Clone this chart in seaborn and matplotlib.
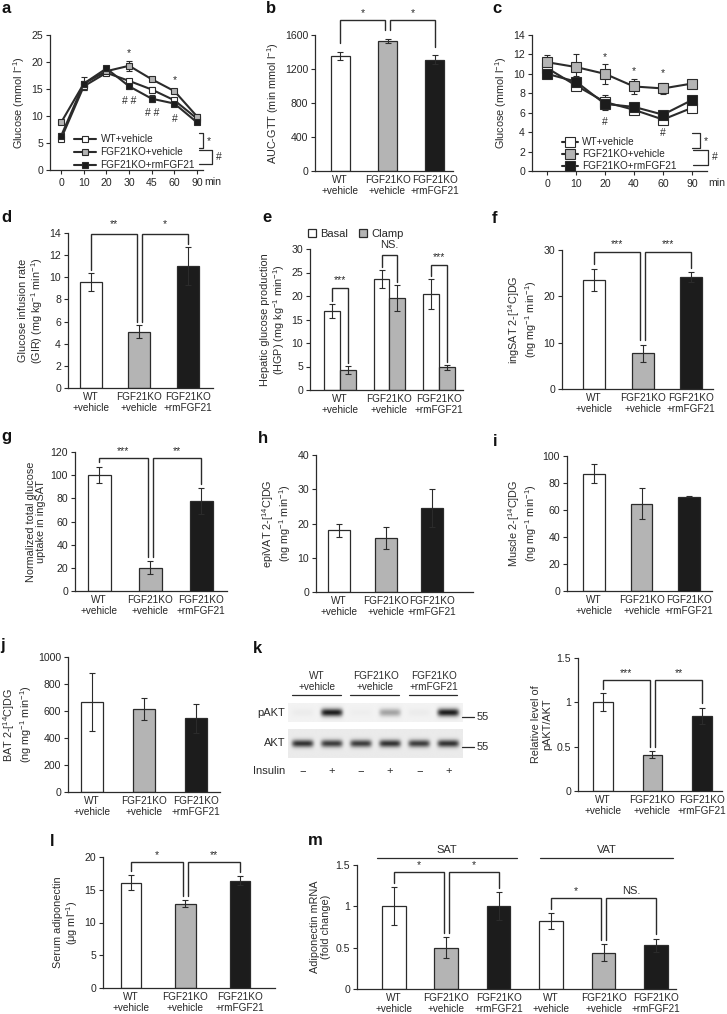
import numpy as np
import pandas as pd
import matplotlib
matplotlib.use('Agg')
import matplotlib.pyplot as plt
import seaborn as sns
from matplotlib.lines import Line2D
from matplotlib.ticker import FuncFormatter

sns.set_theme(style='ticks')
plt.rcParams['font.family'] = ['Liberation Sans', 'DejaVu Sans']
plt.rcParams['mathtext.fontset'] = 'custom'
plt.rcParams['mathtext.rm'] = 'Liberation Sans'
plt.rcParams['mathtext.default'] = 'regular'

W, H = 727, 1014
INK = '#2b2b2b'
WHITE, GREY, BLACK = '#ffffff', '#b4b4b4', '#1c1c1c'
COLS3 = [WHITE, GREY, BLACK]
GROUPS = ['WT\n+vehicle', 'FGF21KO\n+vehicle', 'FGF21KO\n+rmFGF21']
SERIES = ['WT+vehicle', 'FGF21KO+vehicle', 'FGF21KO+rmFGF21']
FS_NUM = 7.6   # numeric tick labels
FS_CAT = 7.2   # category labels / legends
FS_LAB = 7.8   # axis titles

# ---- a: GTT ----
gtt_time = ['0', '10', '20', '30', '45', '60', '90']
gtt_wt = [5.8, 15.5, 18.0, 16.5, 14.9, 12.9, 9.5]
gtt_wt_err = [0.3, 0.6, 0.3, 0.4, 0.4, 0.3, 0.3]
gtt_ko = [8.8, 16.0, 18.3, 19.3, 16.8, 14.6, 9.9]
gtt_ko_err = [0.3, 0.5, 0.4, 0.9, 0.4, 0.4, 0.4]
gtt_rm = [6.3, 16.0, 18.8, 15.5, 13.2, 12.3, 8.8]
gtt_rm_err = [0.5, 1.2, 0.5, 0.5, 0.6, 0.4, 0.3]

# ---- b: AUC ----
auc = [1355, 1530, 1310]
auc_err = [45, 25, 50]

# ---- c: ITT ----
itt_time = ['0', '10', '20', '40', '60', '90']
itt_wt = [10.6, 8.8, 7.1, 6.3, 5.3, 6.5]
itt_wt_err = [0.3, 0.3, 0.7, 0.3, 0.3, 0.3]
itt_ko = [11.2, 10.7, 10.0, 8.7, 8.5, 9.0]
itt_ko_err = [0.7, 1.3, 1.0, 0.8, 0.6, 0.4]
itt_rm = [10.0, 9.2, 6.9, 6.6, 5.8, 7.3]
itt_rm_err = [0.3, 0.6, 0.6, 0.4, 0.3, 0.3]

# ---- d..j, k, l, m ----
gir = [9.6, 5.1, 11.0]
gir_err = [0.8, 0.6, 1.7]
hgp_basal = [16.8, 23.7, 20.5]
hgp_basal_err = [1.5, 1.9, 3.2]
hgp_clamp = [4.3, 19.6, 4.8]
hgp_clamp_err = [0.8, 2.7, 0.6]
ingsat = [23.6, 7.7, 24.2]
ingsat_err = [2.4, 1.9, 1.0]
norm_uptake = [100, 20, 77.5]
norm_uptake_err = [7, 5.5, 11]
epivat = [18.0, 15.9, 24.6]
epivat_err = [1.8, 3.2, 5.5]
muscle = [87, 64.5, 70]
muscle_err = [7, 11.5, 0.7]
bat = [665, 615, 545]
bat_err = [215, 85, 107]
pakt_ratio = [1.0, 0.41, 0.85]
pakt_ratio_err = [0.1, 0.04, 0.09]
adipo_serum = [16.1, 12.9, 16.4]
adipo_serum_err = [1.2, 0.5, 0.7]
adipo_mrna = [1.0, 0.5, 1.0, 0.82, 0.44, 0.53]
adipo_mrna_err = [0.23, 0.13, 0.17, 0.1, 0.1, 0.08]

# western blot band intensities (0..1) per lane
blot_pakt = [0.03, 0.95, 0.02, 0.35, 0.03, 0.95]
blot_akt = [0.85, 0.8, 0.8, 0.85, 0.8, 0.85]
insulin = ['\u2212', '+', '\u2212', '+', '\u2212', '+']

fig = plt.figure(figsize=(W / 100, H / 100), dpi=100)


def add_ax(x0, y0, x1, y1):
    return fig.add_axes([x0 / W, 1 - y1 / H, (x1 - x0) / W, (y1 - y0) / H])


def ftext(x, y, s, **kw):
    fig.text(x / W, 1 - y / H, s, **kw)


def fline(xs, ys):
    fig.add_artist(Line2D([x / W for x in xs], [1 - y / H for y in ys],
                          color=INK, lw=0.9))


def style(ax, ymax, step, xticks=False):
    sns.despine(ax=ax)
    for s in ['left', 'bottom']:
        ax.spines[s].set_color(INK)
        ax.spines[s].set_linewidth(0.9)
    ax.set_ylim(0, ymax)
    ax.set_yticks(np.arange(0, ymax + step / 2, step))
    ax.yaxis.set_major_formatter(FuncFormatter(lambda v, p: f'{v:g}'))
    ax.tick_params(axis='y', labelsize=FS_NUM, length=3, width=0.8, color=INK, pad=2)
    ax.tick_params(axis='x', labelsize=FS_NUM if xticks else FS_CAT,
                   length=3 if xticks else 0, width=0.8, color=INK, pad=3)
    ax.set_xlabel('')


def bars(ax, vals, errs, width, xlim, names=GROUPS, colors=COLS3):
    keys = [str(i) for i in range(len(vals))]
    sns.barplot(x=keys, y=vals, hue=keys, palette=colors, width=width,
                saturation=1, edgecolor=INK, linewidth=0.9, errorbar=None,
                legend=False, ax=ax)
    for bar, e in zip(ax.patches, errs):
        ax.errorbar(bar.get_x() + bar.get_width() / 2, bar.get_height(), yerr=e,
                    fmt='none', ecolor=INK, elinewidth=0.8, capsize=2,
                    capthick=0.8, zorder=3)
    ax.set_xticks(range(len(vals)))
    ax.set_xticklabels(names, linespacing=1.15)
    ax.set_xlim(*xlim)


def bracket(ax, xa, xb, ya, yb, top, label, ty, fs=7.5):
    ax.plot([xa, xa, xb, xb], [ya, top, top, yb], color=INK, lw=1.0,
            clip_on=False, solid_joinstyle='miter')
    ax.text((xa + xb) / 2, ty, label, ha='center', va='center', fontsize=fs,
            color=INK, clip_on=False)


def ylab(ax, s):
    ax.set_ylabel(s, fontsize=FS_LAB, color=INK, labelpad=3, linespacing=1.1)


def time_panel(ax, times, series, ms, xlim):
    pos = np.arange(len(times))
    for (vals, errs, face), name in zip(series, SERIES):
        ax.errorbar(pos, vals, yerr=errs, fmt='none', ecolor=INK,
                    elinewidth=0.8, capsize=2, capthick=0.8, zorder=1)
        sns.lineplot(x=pos, y=vals, color=INK, linewidth=1.5, marker='s',
                     markersize=ms, markerfacecolor=face, markeredgecolor=INK,
                     markeredgewidth=0.8, label=name, ax=ax, zorder=2)
    ax.set_xticks(pos)
    ax.set_xticklabels(times)
    ax.set_xlim(*xlim)
    ax.annotate('min', xy=(xlim[1], 0), xycoords=('data', 'axes fraction'),
                xytext=(1, -5), textcoords='offset points', ha='left', va='top',
                fontsize=FS_NUM, color=INK)


# ================= a =================
ax = add_ax(50, 35, 203, 170)
time_panel(ax, gtt_time, [(gtt_wt, gtt_wt_err, WHITE), (gtt_ko, gtt_ko_err, GREY),
                          (gtt_rm, gtt_rm_err, BLACK)], 5.0, (-0.49, 6.26))
style(ax, 25, 5, xticks=True)
ylab(ax, 'Glucose (mmol l$^{-1}$)')
ax.legend(loc='lower left', bbox_to_anchor=(0.16, 0.0), fontsize=FS_CAT, frameon=False,
          handlelength=2.2, handletextpad=0.4, labelspacing=0.3, borderpad=0,
          borderaxespad=0)
for x, y, s in [(3, 21.6, '*'), (3, 12.8, '# #'), (4, 10.6, '# #'), (5, 16.6, '*'),
                (5, 9.4, '#')]:
    ax.text(x, y, s, ha='center', va='center', fontsize=7.5, color=INK)
fline([199, 203, 203, 199], [133, 133, 148, 148])
ftext(207, 141, '*', fontsize=7.5, color=INK, va='center')
fline([199, 212, 212, 199], [150, 150, 164, 164])
ftext(216, 157, '#', fontsize=7.5, color=INK, va='center')

# ================= b =================
ax = add_ax(315, 35, 453, 171)
bars(ax, auc, auc_err, 0.4, (-0.53, 2.38))
style(ax, 1600, 400)
ylab(ax, 'AUC-GTT (min mmol l$^{-1}$)')
pad = 100
bracket(ax, 0, 0.95, auc[0] + auc_err[0] + pad, auc[1] + auc_err[1] + pad, 1776, '*', 1860)
bracket(ax, 1.05, 2, auc[1] + auc_err[1] + pad, auc[2] + auc_err[2] + pad, 1776, '*', 1860)

# ================= c =================
ax = add_ax(532, 35, 707, 171)
time_panel(ax, itt_time, [(itt_wt, itt_wt_err, WHITE), (itt_ko, itt_ko_err, GREY),
                          (itt_rm, itt_rm_err, BLACK)], 6.5, (-0.52, 5.52))
style(ax, 14, 2, xticks=True)
ylab(ax, 'Glucose (mmol l$^{-1}$)')
ax.legend(loc='lower left', bbox_to_anchor=(0.17, 0.0), fontsize=FS_CAT, frameon=False,
          handlelength=1.6, handletextpad=0.4, labelspacing=0.2, borderpad=0,
          borderaxespad=0)
for x, y, s in [(2, 11.7, '*'), (3, 10.3, '*'), (4, 10.1, '*'), (2, 5.0, '#'),
                (4, 3.9, '#')]:
    ax.text(x, y, s, ha='center', va='center', fontsize=7.5, color=INK)
fline([692, 700, 700, 692], [133, 133, 148, 148])
ftext(704, 141, '*', fontsize=7.5, color=INK, va='center')
fline([693, 708, 708, 693], [150, 150, 165, 165])
ftext(712, 157, '#', fontsize=7.5, color=INK, va='center')

# ================= d =================
ax = add_ax(68, 233, 213, 388)
bars(ax, gir, gir_err, 0.45, (-0.47, 2.52))
style(ax, 14, 2)
ylab(ax, 'Glucose infusion rate\n(GIR) (mg kg$^{-1}$ min$^{-1}$)')
pad = 0.3
bracket(ax, 0, 0.945, gir[0] + gir_err[0] + pad, gir[1] + gir_err[1] + pad, 13.9, '**', 14.8)
bracket(ax, 1.055, 2, gir[1] + gir_err[1] + pad, gir[2] + gir_err[2] + pad, 13.9, '*', 14.8)

# ================= e =================
ax = add_ax(310, 249, 463, 390)
hgp = pd.DataFrame({'group': GROUPS * 2,
                    'cond': ['Basal'] * 3 + ['Clamp'] * 3,
                    'value': hgp_basal + hgp_clamp})
sns.barplot(data=hgp, x='group', y='value', hue='cond', palette=[WHITE, GREY],
            width=0.64, saturation=1, edgecolor=INK, linewidth=0.9,
            errorbar=None, ax=ax)
for cont, errs in zip(ax.containers, [hgp_basal_err, hgp_clamp_err]):
    for bar, e in zip(cont, errs):
        ax.errorbar(bar.get_x() + bar.get_width() / 2, bar.get_height(), yerr=e,
                    fmt='none', ecolor=INK, elinewidth=0.8, capsize=2,
                    capthick=0.8, zorder=3)
ax.set_xlim(-0.6, 2.48)
style(ax, 30, 5)
ax.set_xticklabels(GROUPS, linespacing=1.15)
ylab(ax, 'Hepatic glucose production\n(HGP) (mg kg$^{-1}$ min$^{-1}$)')
h_, l_ = ax.get_legend_handles_labels()
ax.legend(h_, l_, loc='center', bbox_to_anchor=(0.3, 1.105), ncol=2, fontsize=8,
          frameon=False, handlelength=0.7, handleheight=0.7, handletextpad=0.4,
          columnspacing=1.0, borderpad=0)
tops = [(21.7, 23.3, '***', 7.5), (28.7, 30.9, 'NS.', 8), (26.6, 28.3, '***', 7.5)]
for i, (top, ty, s, fs) in enumerate(tops):
    b0 = ax.containers[0][i]
    b1 = ax.containers[1][i]
    bracket(ax, b0.get_x() + b0.get_width() / 2, b1.get_x() + b1.get_width() / 2,
            hgp_basal[i] + hgp_basal_err[i] + 0.6, hgp_clamp[i] + hgp_clamp_err[i] + 0.6,
            top, s, ty, fs)

# ================= f =================
ax = add_ax(562, 250, 713, 389)
bars(ax, ingsat, ingsat_err, 0.45, (-0.66, 2.45))
style(ax, 30, 10)
ylab(ax, 'ingSAT 2-[$^{14}$C]DG\n(ng mg$^{-1}$ min$^{-1}$)')
pad = 1.0
bracket(ax, 0, 0.95, ingsat[0] + ingsat_err[0] + pad, ingsat[1] + ingsat_err[1] + pad, 29.6, '***', 31.2)
bracket(ax, 1.05, 2, ingsat[1] + ingsat_err[1] + pad, ingsat[2] + ingsat_err[2] + pad, 29.6, '***', 31.2)

# ================= g =================
ax = add_ax(75, 452, 227, 591)
bars(ax, norm_uptake, norm_uptake_err, 0.45, (-0.47, 2.5))
style(ax, 120, 20)
ylab(ax, 'Normalized total glucose\nuptake in ingSAT')
pad = 4
bracket(ax, 0, 0.95, norm_uptake[0] + norm_uptake_err[0] + pad,
        norm_uptake[1] + norm_uptake_err[1] + pad, 115, '***', 121)
bracket(ax, 1.05, 2, norm_uptake[1] + norm_uptake_err[1] + pad,
        norm_uptake[2] + norm_uptake_err[2] + pad, 115, '**', 121)

# ================= h =================
ax = add_ax(316, 455, 473, 592)
bars(ax, epivat, epivat_err, 0.47, (-0.5, 2.88))
style(ax, 40, 10)
ylab(ax, 'epiVAT 2-[$^{14}$C]DG\n(ng mg$^{-1}$ min$^{-1}$)')

# ================= i =================
ax = add_ax(567, 456, 712, 591)
bars(ax, muscle, muscle_err, 0.45, (-0.57, 2.48))
style(ax, 100, 20)
ylab(ax, 'Muscle 2-[$^{14}$C]DG\n(ng mg$^{-1}$ min$^{-1}$)')

# ================= j =================
ax = add_ax(68, 657, 220, 792)
bars(ax, bat, bat_err, 0.43, (-0.46, 2.46))
style(ax, 1000, 200)
ylab(ax, 'BAT 2-[$^{14}$C]DG\n(ng mg$^{-1}$ min$^{-1}$)')

# ================= k: blot =================
bax = add_ax(288, 703, 463, 758)


def strip(levels, bg, thick):
    xs = np.linspace(0, len(levels), 480)
    ys = np.linspace(-1, 1, 48)
    X, Y = np.meshgrid(xs, ys)
    dark = np.zeros_like(X)
    for i, v in enumerate(levels):
        band = v * np.exp(-((X - (i + 0.5)) / 0.37) ** 6) * np.exp(-(Y / thick) ** 2)
        dark = np.maximum(dark, band)
    return bg - (bg - 0.07) * dark


bax.imshow(strip(blot_pakt, 0.95, 0.42), extent=(0, 6, 19, 0), cmap='gray',
           vmin=0, vmax=1, aspect='auto', interpolation='bilinear')
bax.imshow(strip(blot_akt, 0.92, 0.26), extent=(0, 6, 55, 26), cmap='gray',
           vmin=0, vmax=1, aspect='auto', interpolation='bilinear')
bax.set_xlim(0, 6)
bax.set_ylim(55, 0)
bax.axis('off')
bax.text(-0.1, 10, 'pAKT', ha='right', va='center', fontsize=8, color=INK)
bax.text(-0.1, 40, 'AKT', ha='right', va='center', fontsize=8, color=INK)
bax.text(-0.1, 68, 'Insulin', ha='right', va='center', fontsize=8, color=INK)
for i, s in enumerate(insulin):
    bax.text(i + 0.5, 68, s, ha='center', va='center', fontsize=8, color=INK)
for y in [14, 44]:
    bax.plot([5.97, 6.38], [y, y], color=INK, lw=0.9, clip_on=False)
    bax.text(6.46, y, '55', ha='left', va='center', fontsize=8, color=INK)
for g, name in enumerate(GROUPS):
    bax.plot([2 * g + 0.14, 2 * g + 1.8], [-8, -8], color=INK, lw=0.9, clip_on=False)
    bax.text(2 * g + 1, -11, name, ha='center', va='bottom', fontsize=FS_CAT,
             color=INK, linespacing=1.15)

# ================= k: quantification =================
ax = add_ax(578, 658, 722, 791)
bars(ax, pakt_ratio, pakt_ratio_err, 0.4, (-0.5, 2.4))
style(ax, 1.5, 0.5)
ylab(ax, 'Relative level of\npAKT/AKT')
pad = 0.05
bracket(ax, 0, 0.95, pakt_ratio[0] + pakt_ratio_err[0] + pad,
        pakt_ratio[1] + pakt_ratio_err[1] + pad, 1.25, '***', 1.33)
bracket(ax, 1.05, 2, pakt_ratio[1] + pakt_ratio_err[1] + pad,
        pakt_ratio[2] + pakt_ratio_err[2] + pad, 1.25, '**', 1.33)

# ================= l =================
ax = add_ax(103, 857, 275, 988)
bars(ax, adipo_serum, adipo_serum_err, 0.37, (-0.51, 2.64))
style(ax, 20, 5)
ylab(ax, 'Serum adiponectin\n(\u03bcg ml$^{-1}$)')
pad = 0.6
bracket(ax, 0, 0.95, adipo_serum[0] + adipo_serum_err[0] + pad,
        adipo_serum[1] + adipo_serum_err[1] + pad, 19.2, '*', 20.3)
bracket(ax, 1.05, 2, adipo_serum[1] + adipo_serum_err[1] + pad,
        adipo_serum[2] + adipo_serum_err[2] + pad, 19.2, '**', 20.3)

# ================= m =================
ax = add_ax(357, 865, 676, 989)
bars(ax, adipo_mrna, adipo_mrna_err, 0.45, (-0.7, 5.38),
     names=GROUPS * 2, colors=COLS3 * 2)
style(ax, 1.5, 0.5)
ylab(ax, 'Adiponectin mRNA\n(fold change)')
tip = [v + e + 0.05 for v, e in zip(adipo_mrna, adipo_mrna_err)]
bracket(ax, 0, 0.95, tip[0], tip[1], 1.415, '*', 1.5)
bracket(ax, 1.05, 2, tip[1], tip[2], 1.415, '*', 1.5)
bracket(ax, 3, 3.95, tip[3], tip[4], 1.1, '*', 1.18)
bracket(ax, 4.05, 5, tip[4], tip[5], 1.1, 'NS.', 1.18, fs=8)
for x0, x1, name in [(-0.32, 2.35, 'SAT'), (2.79, 5.32, 'VAT')]:
    ax.plot([x0, x1], [1.585, 1.585], color=INK, lw=0.9, clip_on=False)
    ax.text((x0 + x1) / 2, 1.68, name, ha='center', va='center', fontsize=8,
            color=INK)

# ================= panel letters =================
for x, y, s in [(1, 13, 'a'), (266, 13, 'b'), (492, 13, 'c'),
                (1, 222, 'd'), (262, 222, 'e'), (492, 223, 'f'),
                (1, 441, 'g'), (258, 443, 'h'), (493, 446, 'i'),
                (0, 650, 'j'), (253, 653, 'k'), (50, 846, 'l'), (308, 845, 'm')]:
    ftext(x, y, s, fontsize=12, fontweight='bold', va='baseline', color='#111111')

fig.savefig('out.png', dpi=100)
